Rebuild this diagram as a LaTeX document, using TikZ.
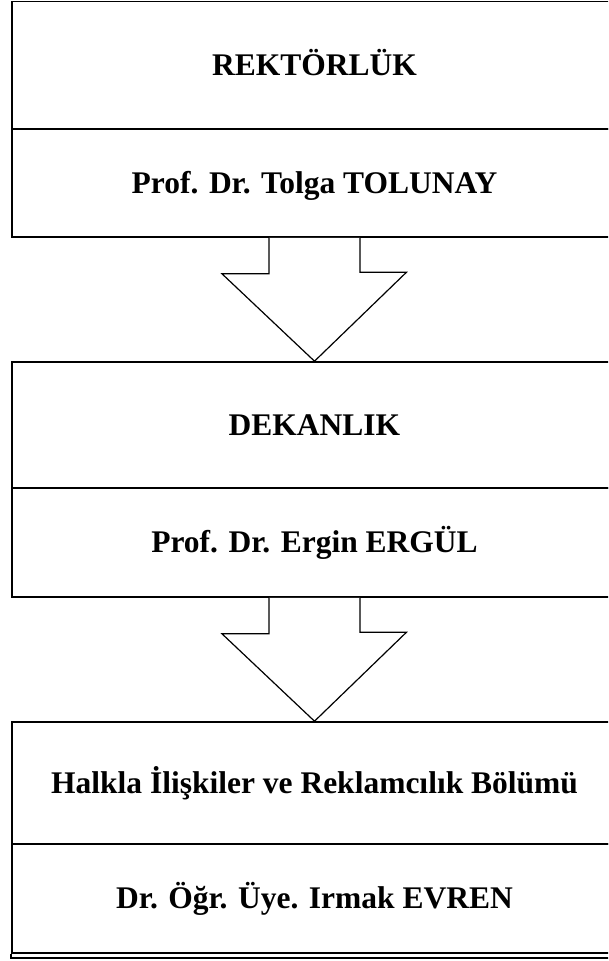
\documentclass[tikz,border=0pt]{standalone}
\usepackage{fontspec}
\setmainfont{Liberation Serif}
\usetikzlibrary{calc}
\begin{document}
\begin{tikzpicture}[x=1pt,y=-1pt,
  boxpart/.style={draw=black, line width=1.6pt, rectangle, inner sep=0pt,
    minimum width=605pt, font=\fontsize{31.5}{36}\selectfont\bfseries,
    text height=20.9pt, text depth=0pt},
  blockarrow/.style={draw=black, line width=1.2pt, line join=miter, fill=white}]
\useasboundingbox (0,0) rectangle (608,961);
\clip (0,0) rectangle (608,961);
% boxes
\node[boxpart, minimum height=127.5pt] (b1a) at (314.5,65.25) {REKTÖRLÜK};
\node[boxpart, minimum height=108pt] (b1b) at (314.5,183) {Prof. Dr. Tolga TOLUNAY};
\node[boxpart, minimum height=126pt] (b2a) at (314.5,425) {DEKANLIK};
\node[boxpart, minimum height=109pt] (b2b) at (314.5,542.5) {Prof. Dr. Ergin ERGÜL};
\node[boxpart, minimum height=122pt] (b3a) at (314.5,783) {Halkla İlişkiler ve Reklamcılık Bölümü};
\node[boxpart, minimum height=109pt] (b3b) at (314.5,898.5) {Dr. Öğr. Üye. Irmak EVREN};
% double bottom line
\draw[line width=1.6pt] (b3b.south west) -- ++(0,4) coordinate (dl) -- (dl -| b3b.south east);
% block arrows
\draw[blockarrow] ($(b1b.south)+(-45.5,0)$) -- ++(0,36) -- ++(-47,0) -- (b2a.north)
  -- ++(92,-89) -- ++(-46.5,0) -- ($(b1b.south)+(45.5,0)$);
\draw[blockarrow] ($(b2b.south)+(-45.5,0)$) -- ++(0,36) -- ++(-47,0) -- (b3a.north)
  -- ++(92,-89) -- ++(-46.5,0) -- ($(b2b.south)+(45.5,0)$);
\end{tikzpicture}
\end{document}
